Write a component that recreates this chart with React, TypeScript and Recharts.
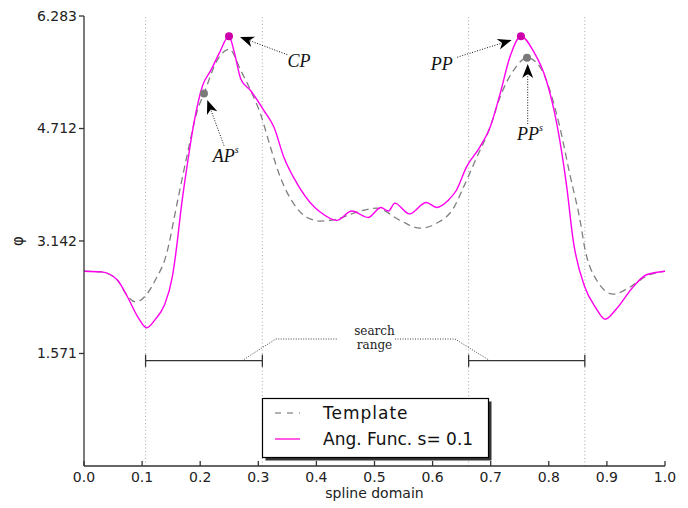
import { LineChart, Line, XAxis, YAxis, ReferenceLine, ReferenceDot, Legend } from 'recharts';

// template curve (grey dashed)
const templateX = [0, 0.03, 0.057, 0.075, 0.089, 0.109, 0.123, 0.141, 0.161, 0.178, 0.195, 0.2065, 0.229, 0.25, 0.27, 0.287, 0.304, 0.321, 0.338, 0.361, 0.384, 0.407, 0.436, 0.464, 0.504, 0.544, 0.578, 0.607, 0.636, 0.653, 0.676, 0.699, 0.716, 0.739, 0.7625, 0.785, 0.802, 0.819, 0.836, 0.854, 0.862, 0.882, 0.911, 0.94, 0.968, 1.0];
const templateY = [2.72, 2.71, 2.6, 2.37, 2.29, 2.41, 2.6, 2.93, 3.7, 4.36, 4.96, 5.2, 5.66, 5.82, 5.52, 5.24, 4.91, 4.45, 4.03, 3.66, 3.47, 3.42, 3.45, 3.53, 3.6, 3.43, 3.32, 3.39, 3.6, 3.89, 4.31, 4.73, 5.15, 5.52, 5.7, 5.57, 5.24, 4.73, 4.08, 3.42, 3.04, 2.6, 2.4, 2.5, 2.65, 2.72];

// angular function, s = 0.1 (magenta)
const angX = [0, 0.03, 0.057, 0.075, 0.092, 0.108, 0.123, 0.138, 0.152, 0.161, 0.166, 0.178, 0.189, 0.204, 0.218, 0.232, 0.2496, 0.258, 0.27, 0.287, 0.31, 0.327, 0.344, 0.367, 0.396, 0.406, 0.435, 0.461, 0.489, 0.511, 0.524, 0.535, 0.56, 0.589, 0.607, 0.627, 0.641, 0.658, 0.681, 0.699, 0.716, 0.733, 0.752, 0.773, 0.796, 0.814, 0.831, 0.842, 0.862, 0.88, 0.897, 0.917, 0.945, 0.968, 1.0];
const angY = [2.72, 2.71, 2.6, 2.36, 2.09, 1.93, 2.05, 2.24, 2.64, 3.16, 3.52, 4.22, 4.78, 5.31, 5.52, 5.75, 6.0, 5.8, 5.4, 5.24, 4.96, 4.73, 4.31, 3.94, 3.62, 3.55, 3.43, 3.56, 3.47, 3.61, 3.56, 3.67, 3.52, 3.68, 3.61, 3.71, 3.85, 4.17, 4.45, 4.73, 5.19, 5.71, 6.0, 5.8, 5.38, 4.77, 3.89, 3.15, 2.5, 2.22, 2.05, 2.2, 2.5, 2.67, 2.72];

const xTicks = [0, 0.1, 0.2, 0.3, 0.4, 0.5, 0.6, 0.7, 0.8, 0.9, 1.0];
const yTicks = [1.571, 3.142, 4.712, 6.283];
const yMax = 6.283;

const boundaries = [0.106, 0.307, 0.662, 0.862];
const searchRanges = [[0.106, 0.307], [0.662, 0.862]];
const rangeY = 1.47;
const capHalf = 0.085;
const leaderLeft = [[0.272, 1.47], [0.33, 1.773], [0.4355, 1.773]];
const leaderRight = [[0.5353, 1.773], [0.6386, 1.773], [0.6988, 1.47]];
const rangeLabel = { x: 0.5, y: 1.83, lines: ['search', 'range'] };

const keyPoints = [
  { name: 'CP', x: 0.2496, y: 6.0, color: '#cc00aa' },
  { name: 'PP', x: 0.752, y: 6.0, color: '#cc00aa' },
  { name: 'APs', x: 0.2065, y: 5.2, color: '#7a7a7a' },
  { name: 'PPs', x: 0.7625, y: 5.7, color: '#7a7a7a' },
];

const annotations = [
  { base: 'CP', sup: '', from: [0.3499, 5.743], to: [0.2685, 5.99], text: [0.3701, 5.66] },
  { base: 'AP', sup: 's', from: [0.241, 4.472], to: [0.2122, 5.109], text: [0.2439, 4.33] },
  { base: 'PP', sup: '', from: [0.6424, 5.707], to: [0.7361, 5.948], text: [0.6156, 5.612] },
  { base: 'PP', sup: 's', from: [0.7637, 4.774], to: [0.7637, 5.612], text: [0.7676, 4.635] },
];

const templateData = templateX.map((x, i) => ({ x, y: templateY[i] }));
const angData = angX.map((x, i) => ({ x, y: angY[i] }));

const AXIS = '#333';
const tickStyle = { fontSize: 14, fontFamily: 'DejaVu Sans', fill: '#222' };

function Arrow(props: any) {
  const { x1, y1, x2, y2 } = props;
  const dx = x2 - x1;
  const dy = y2 - y1;
  const len = Math.hypot(dx, dy) || 1;
  const ux = dx / len;
  const uy = dy / len;
  const L = 14, W = 5.5, notch = 4;
  const bx = x2 - ux * L, by = y2 - uy * L;
  const nx = x2 - ux * (L - notch), ny = y2 - uy * (L - notch);
  const pts = [
    [x2, y2],
    [bx - uy * W, by + ux * W],
    [nx, ny],
    [bx + uy * W, by - ux * W],
  ].map((p) => p.join(',')).join(' ');
  return (
    <g>
      <line x1={x1} y1={y1} x2={nx} y2={ny} stroke="#111" strokeWidth={1} strokeDasharray="1 1.6" />
      <polygon points={pts} fill="#000" />
    </g>
  );
}

function LegendBox() {
  return (
    <svg width={232} height={64} style={{ display: 'block', overflow: 'visible' }}>
      <rect x={3.5} y={3.5} width={226} height={59} fill="#333" />
      <rect x={0.5} y={0.5} width={226} height={59} fill="#fff" stroke="#000" strokeWidth={1.2} />
      <line x1={13} x2={38} y1={15} y2={15} stroke="#999" strokeWidth={1.4} strokeDasharray="6 6" />
      <line x1={13} x2={38} y1={41} y2={41} stroke="#ff33dd" strokeWidth={1.6} />
      <text x={61} y={15} dominantBaseline="central" fontFamily="DejaVu Sans" fontSize={17} letterSpacing={1} fill="#111">Template</text>
      <text x={61} y={41} dominantBaseline="central" fontFamily="DejaVu Sans" fontSize={17} fill="#111">Ang. Func.  s= 0.1</text>
    </svg>
  );
}

export default function App() {
  return (
    <div style={{ position: 'absolute', left: 0, top: 0, background: '#fff' }}>
      <LineChart width={688} height={508} margin={{ top: 16, right: 23, bottom: 12, left: 0 }}>
        <XAxis
          dataKey="x"
          type="number"
          domain={[0, 1]}
          ticks={xTicks}
          tickFormatter={(v: number) => v.toFixed(1)}
          tickSize={-5}
          tickMargin={11}
          height={30}
          tick={tickStyle}
          stroke={AXIS}
          strokeWidth={1.3}
          label={{ value: 'spline domain', position: 'insideBottom', offset: -2, style: { fontFamily: 'DejaVu Sans', fontSize: 14, fill: '#222' } }}
        />
        <XAxis
          xAxisId="top"
          orientation="top"
          type="number"
          domain={[0, 1]}
          ticks={xTicks}
          tickFormatter={() => ''}
          mirror
          tickSize={5}
          height={0}
          stroke={AXIS}
          strokeWidth={1.3}
        />
        <YAxis
          type="number"
          domain={[0, yMax]}
          ticks={yTicks}
          tickFormatter={(v: number) => v.toFixed(3)}
          width={84}
          tickSize={5}
          tickMargin={2}
          tick={tickStyle}
          stroke={AXIS}
          strokeWidth={1.3}
          label={{
            content: () => (
              <text x={18} y={241} transform="rotate(-90 18 241)" textAnchor="middle" dominantBaseline="central" fontFamily="DejaVu Sans" fontSize={15} fill="#222">φ</text>
            ),
          }}
        />
        <YAxis yAxisId="leftIn" orientation="left" mirror type="number" domain={[0, yMax]} ticks={yTicks} tickFormatter={() => ''} width={0} tickSize={5} stroke={AXIS} strokeWidth={1.3} />
        <YAxis yAxisId="right" orientation="right" mirror type="number" domain={[0, yMax]} ticks={yTicks} tickFormatter={() => ''} width={0} tickSize={5} stroke={AXIS} strokeWidth={1.3} />

        {boundaries.map((b) => (
          <ReferenceLine key={`b-${b}`} x={b} stroke="#aaa" strokeWidth={1} strokeDasharray="1 2.5" />
        ))}

        {searchRanges.map(([a, b]) => (
          <ReferenceLine key={`r-${a}`} segment={[{ x: a, y: rangeY }, { x: b, y: rangeY }]} stroke={AXIS} strokeWidth={1.3} />
        ))}
        {searchRanges.flat().map((e) => (
          <ReferenceLine key={`c-${e}`} segment={[{ x: e, y: rangeY - capHalf }, { x: e, y: rangeY + capHalf }]} stroke={AXIS} strokeWidth={1.3} />
        ))}
        {[leaderLeft, leaderRight].flatMap((path, k) =>
          path.slice(1).map((p, i) => (
            <ReferenceLine
              key={`l-${k}-${i}`}
              segment={[{ x: path[i][0], y: path[i][1] }, { x: p[0], y: p[1] }]}
              stroke="#444"
              strokeWidth={1}
              strokeDasharray="1 1.5"
            />
          ))
        )}
        <ReferenceDot
          x={rangeLabel.x}
          y={rangeLabel.y}
          r={0}
          shape={(p: any) => (
            <text x={p.cx} y={p.cy} textAnchor="middle" fontFamily="DejaVu Serif" fontSize={12} fill="#222">
              {rangeLabel.lines.map((t, i) => (
                <tspan key={t} x={p.cx} dy={i === 0 ? 0 : 14}>{t}</tspan>
              ))}
            </text>
          )}
        />

        <Line data={templateData} dataKey="y" name="Template" type="monotone" stroke="#808080" strokeWidth={1.3} strokeDasharray="7 4.5" dot={false} activeDot={false} isAnimationActive={false} />
        <Line data={angData} dataKey="y" name="Ang. Func. s= 0.1" type="monotone" stroke="#ff00ee" strokeWidth={1.4} dot={false} activeDot={false} isAnimationActive={false} />

        {keyPoints.map((k) => (
          <ReferenceDot key={k.name} x={k.x} y={k.y} r={4} fill={k.color} stroke="none" ifOverflow="visible" />
        ))}

        {annotations.map((a, i) => (
          <ReferenceLine
            key={`a-${i}`}
            segment={[{ x: a.from[0], y: a.from[1] }, { x: a.to[0], y: a.to[1] }]}
            shape={Arrow}
          />
        ))}
        {annotations.map((a, i) => (
          <ReferenceDot
            key={`t-${i}`}
            x={a.text[0]}
            y={a.text[1]}
            r={0}
            shape={(p: any) => (
              <text x={p.cx} y={p.cy} textAnchor="middle" dominantBaseline="central" fontFamily="Liberation Serif" fontStyle="italic" fontSize={18} fill="#111">
                {a.base}
                {a.sup && <tspan fontSize={10} dy={-7}>{a.sup}</tspan>}
              </text>
            )}
          />
        ))}

        <Legend
          layout="vertical"
          align="center"
          verticalAlign="middle"
          content={() => <LegendBox />}
          wrapperStyle={{ left: 262, top: 398, width: 232, height: 64 }}
        />
      </LineChart>
    </div>
  );
}
